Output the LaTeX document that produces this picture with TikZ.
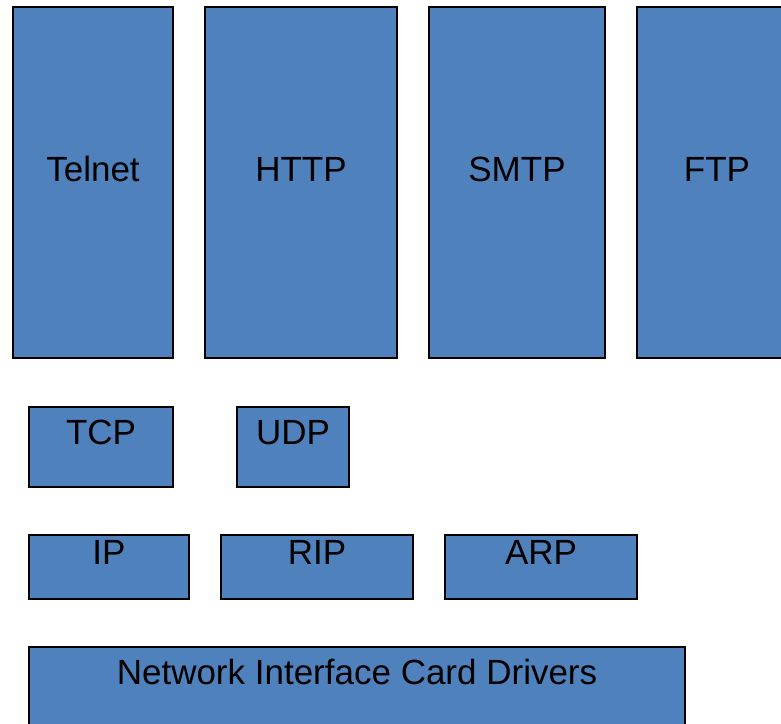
\documentclass[tikz,border=0pt]{standalone}
\usepackage{fontspec}
\setmainfont{Liberation Sans}
\definecolor{boxblue}{RGB}{79,129,189}
\begin{document}
\begin{tikzpicture}[x=1pt,y=-1pt,
  box/.style={draw=black,line width=2pt,fill=boxblue,inner sep=0pt,outer sep=0pt},
  lbl/.style={anchor=base,inner sep=0pt,font=\fontsize{35}{42}\selectfont}]
\useasboundingbox (0,0) rectangle (781,723);
\clip (0,0) rectangle (781,723);
% application layer
\node[box,minimum width=160pt,minimum height=351pt] (telnet) at (93,182.5) {};
\node[box,minimum width=192pt,minimum height=351pt] (http) at (301,182.5) {};
\node[box,minimum width=176pt,minimum height=351pt] (smtp) at (517,182.5) {};
\node[box,minimum width=160pt,minimum height=351pt] (ftp) at (717,182.5) {};
\node[lbl] (telnett) at (93,181) {Telnet};
\node[lbl] (httpt) at (301,181) {HTTP};
\node[lbl] (smtpt) at (517,181) {SMTP};
\node[lbl] (ftpt) at (717,181) {FTP};
% transport layer
\node[box,minimum width=144pt,minimum height=80pt] (tcp) at (101,447) {};
\node[box,minimum width=112pt,minimum height=80pt] (udp) at (293,447) {};
\node[lbl] (tcpt) at (101,444) {TCP};
\node[lbl] (udpt) at (293,444) {UDP};
% network layer
\node[box,minimum width=160pt,minimum height=64pt] (ip) at (109,567) {};
\node[box,minimum width=192pt,minimum height=64pt] (rip) at (317,567) {};
\node[box,minimum width=192pt,minimum height=64pt] (arp) at (541,567) {};
\node[lbl] (ipt) at (109,564) {IP};
\node[lbl] (ript) at (317,564) {RIP};
\node[lbl] (arpt) at (541,564) {ARP};
% link layer
\node[box,minimum width=656pt,minimum height=113pt] (nic) at (357,703.5) {};
\node[lbl] (nict) at (357,684) {Network Interface Card Drivers};
\end{tikzpicture}
\end{document}
